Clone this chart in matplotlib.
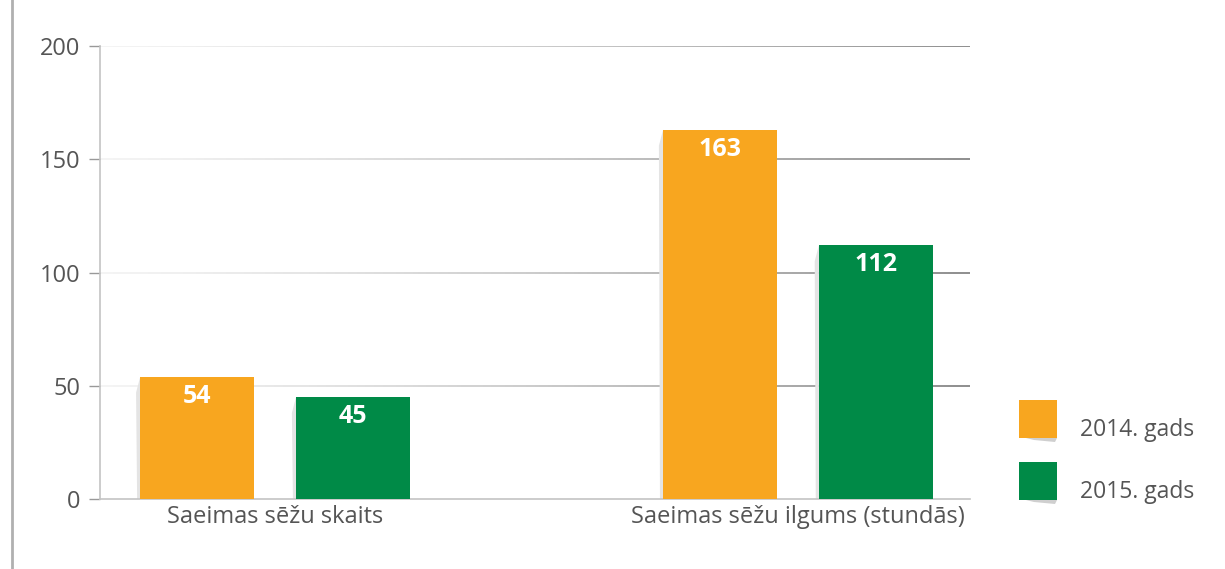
import numpy as np
import matplotlib
matplotlib.use("Agg")
import matplotlib.pyplot as plt
from matplotlib.collections import LineCollection
from matplotlib.patches import Polygon, Rectangle
import matplotlib.colors as mcolors

plt.rcParams['font.family'] = ['Open Sans', 'DejaVu Sans']

categories = ["Saeimas sēžu skaits", "Saeimas sēžu ilgums (stundās)"]
series_names = ["2014. gads", "2015. gads"]
values_2014 = [54, 163]
values_2015 = [45, 112]
yticks = [0, 50, 100, 150, 200]

colors = ["#F8A61F", "#008A47"]
text_gray = "#555555"

fig = plt.figure(figsize=(12.25, 5.69), dpi=100)
ax = fig.add_axes([100/1225, 1-499/569, 870/1225, 453/569])

x = np.arange(len(categories))
width = 0.218
offset = 0.149
xmin, xmax = -0.335, 1.329
ax.set_xlim(xmin, xmax)
ax.set_ylim(0, 200)

# gradient grid lines
n = 200
xs = np.linspace(xmin, xmax, n + 1)
c0 = np.array(mcolors.to_rgb("#f2f2f2"))
c1 = np.array(mcolors.to_rgb("#7a7a7a"))
for yv in yticks[1:]:
    segs = [[(xs[i], yv), (xs[i+1], yv)] for i in range(n)]
    t = np.linspace(0, 1, n) ** 1.3
    cols = [tuple(c0 + (c1 - c0) * ti) for ti in t]
    lc = LineCollection(segs, colors=cols, linewidths=1.2, zorder=1)
    ax.add_collection(lc)

for vals, col, off in [(values_2014, colors[0], -offset), (values_2015, colors[1], offset)]:
    bars = ax.bar(x + off, vals, width=width, color=col, zorder=3)
    for b, v in zip(bars, vals):
        left = b.get_x()
        top = b.get_height()
        # soft shadow on left side
        sh = Polygon([(left - 0.008, top - 7), (left, top), (left, 0), (left - 0.006, 0)],
                     closed=True, facecolor="#e4e4e4", edgecolor="none", zorder=2)
        ax.add_patch(sh)
        ax.annotate(str(v), (b.get_x() + b.get_width()/2, top), xytext=(0, -5),
                    textcoords="offset points", ha="center", va="top",
                    color="white", fontsize=18, fontweight="bold", zorder=4)

ax.set_yticks(yticks)
ax.set_yticklabels([str(v) for v in yticks], fontsize=17, color=text_gray)
ax.set_xticks(x)
ax.set_xticklabels(categories, fontsize=17, color=text_gray)
ax.tick_params(axis='y', length=8, width=1, color="#999999", pad=6, direction='out')
ax.tick_params(axis='x', length=0, pad=4)
for s in ["top", "right"]:
    ax.spines[s].set_visible(False)
ax.spines["left"].set_color("#c4c4c4")
ax.spines["bottom"].set_color("#c4c4c4")
ax.spines["left"].set_linewidth(1.2)
ax.spines["bottom"].set_linewidth(1.2)

# legend drawn manually in figure pixel coordinates
W, H = 1225, 569
for i, (name, col) in enumerate(zip(series_names, colors)):
    top_px = 400 + i * 62
    rect = Rectangle((1019/W, 1 - (top_px + 38)/H), 38/W, 38/H,
                     transform=fig.transFigure, facecolor=col, edgecolor="none", zorder=3)
    fig.patches.append(rect)
    shadow = Polygon([(1026/W, 1-(top_px+38)/H), (1057/W, 1-(top_px+38)/H),
                      (1055/W, 1-(top_px+42)/H), (1034/W, 1-(top_px+40)/H)],
                     closed=True, transform=fig.transFigure, facecolor="#cfcfcf",
                     edgecolor="none", zorder=2)
    fig.patches.append(shadow)
    fig.text(1080/W, 1 - (top_px + 30)/H, name, fontsize=16.5, color=text_gray,
             ha="left", va="center")

# outer left rule
fig.add_artist(plt.Line2D([12/W, 12/W], [0, 1], transform=fig.transFigure,
                          color="#b0b0b0", linewidth=2))

fig.savefig("out.png", dpi=100)
